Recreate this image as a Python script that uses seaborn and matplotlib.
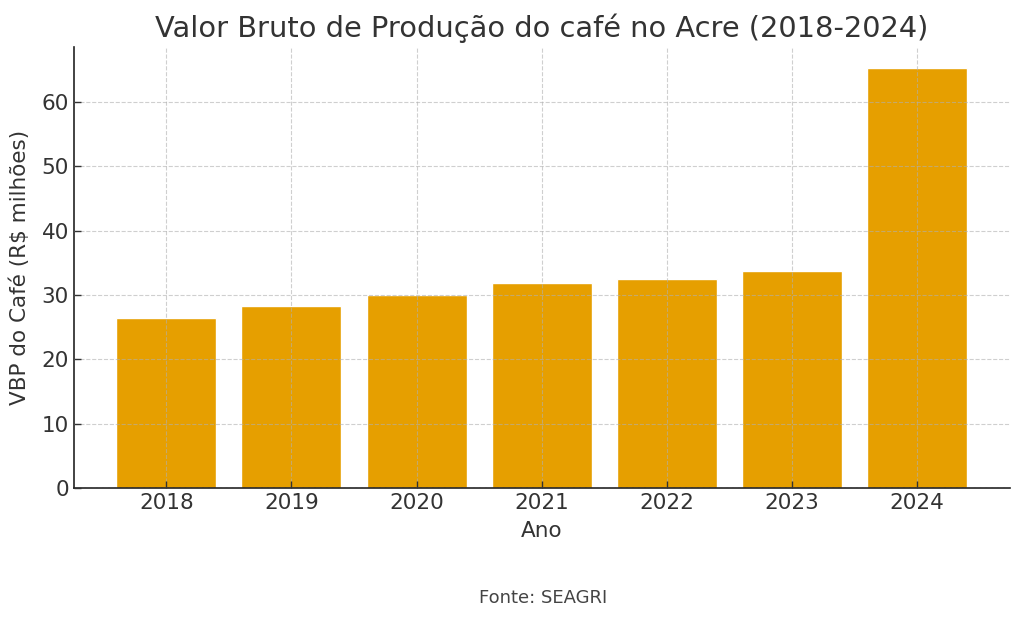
import matplotlib
matplotlib.use("Agg")
import matplotlib.pyplot as plt
import seaborn as sns
import pandas as pd

anos = ["2018", "2019", "2020", "2021", "2022", "2023", "2024"]
vbp = [26.4, 28.3, 30.0, 31.9, 32.5, 33.75, 65.2]

df = pd.DataFrame({"Ano": anos, "VBP": vbp})

sns.set_theme(style="ticks")
plt.rcParams["font.family"] = ["DejaVu Sans"]
plt.rcParams["text.color"] = "#333333"
plt.rcParams["axes.labelcolor"] = "#333333"
plt.rcParams["xtick.color"] = "#333333"
plt.rcParams["ytick.color"] = "#333333"

fig, ax = plt.subplots(figsize=(10.24, 6.2), dpi=100)
fig.subplots_adjust(left=0.072, right=0.986, top=0.924, bottom=0.213)

sns.barplot(data=df, x="Ano", y="VBP", color="#E69F00", saturation=1,
            width=0.8, ax=ax)

ax.set_axisbelow(False)
ax.grid(True, linestyle="--", color="#b0b0b0", alpha=0.6, linewidth=0.8)
ax.set_xlim(-0.74, 6.74)
ax.set_ylim(0, 68.5)
ax.set_yticks([0, 10, 20, 30, 40, 50, 60])

ax.set_title("Valor Bruto de Produção do café no Acre (2018-2024)", fontsize=20.8, pad=7)
ax.set_xlabel("Ano", fontsize=15.5, labelpad=6)
ax.set_ylabel("VBP do Café (R$ milhões)", fontsize=15.5, labelpad=8)
ax.tick_params(axis="both", labelsize=15.5, direction="in", length=5, width=1)

sns.despine(ax=ax)
for s in ["left", "bottom"]:
    ax.spines[s].set_color("#222222")
    ax.spines[s].set_linewidth(1.2)

fig.text(0.53, 0.028, "Fonte: SEAGRI", ha="center", fontsize=13, color="#444444")

fig.savefig("out.png", dpi=100)
